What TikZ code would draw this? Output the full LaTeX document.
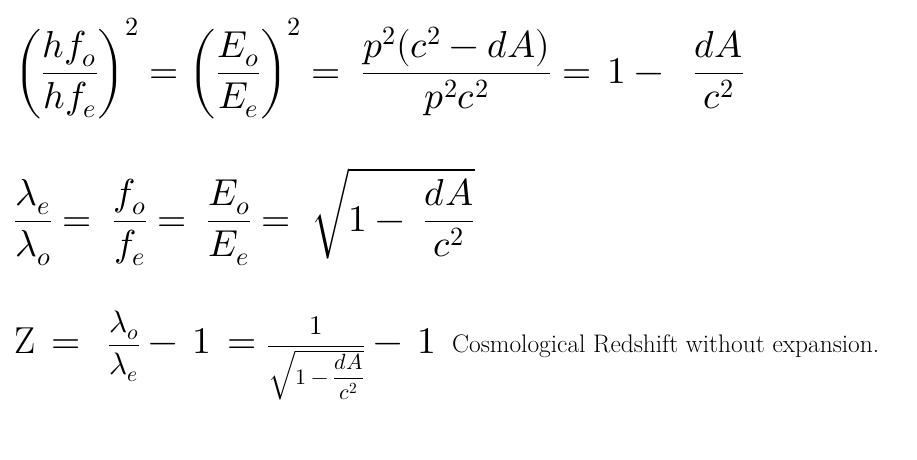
\documentclass[tikz,border=0pt]{standalone}
\usepackage{amsmath}
\usepackage{unicode-math}
\setmathfont{Latin Modern Math}
\newcommand\fsz[2]{\text{\fontsize{#1}{#1}\selectfont$\displaystyle #2$}}
\begin{document}
\begin{tikzpicture}[x=1pt,y=1pt,
  eq/.style={anchor=base west,inner sep=0pt,font=\fontsize{37.5}{45}\selectfont},
  note/.style={anchor=base west,inner sep=0pt,font=\fontsize{25.4}{30}\selectfont}]
\useasboundingbox (0,0) rectangle (917,-459);
\node[eq] (l1) at (14,-83) {$\displaystyle \left(\frac{hf_o}{hf_e}\right)^{2} = \left(\frac{E_o}{E_e}\right)^{2} = \;\frac{p^2(c^2-dA)}{p^2c^2} =\, 1 - \;\;\frac{dA}{c^2}$};
\node[eq] (l2) at (14,-231) {$\displaystyle \frac{\lambda_e}{\lambda_o} = \;\frac{f_o}{f_e} = \;\frac{E_o}{E_e} = \;\sqrt{1-\;\frac{dA}{c^2}}$};
\node[eq] (l3) at (14,-353) {$\mathrm{Z} \,=\;\, \fsz{31}{\frac{\lambda_o}{\lambda_e}} -\, 1 \,= \fsz{27}{\frac{1}{\sqrt{\fsz{22}{1-\frac{dA}{c^2}}}}} -\, 1$};
\node[note] (t3) at (452,-352) {Cosmological Redshift without expansion.};
\end{tikzpicture}
\end{document}
